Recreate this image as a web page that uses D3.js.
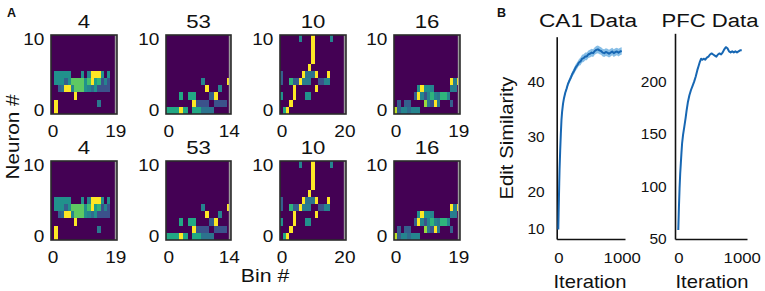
<!DOCTYPE html>
<html><head><meta charset="utf-8">
<script src="https://cdn.jsdelivr.net/npm/d3@7"></script>
<style>
body{margin:0;background:#fff}
svg{display:block;font-family:"Liberation Sans",Arial,sans-serif}
</style></head><body>
<svg id="c" width="765" height="291"></svg>
<script>
// ---------------- DATA ----------------
const panelTitles = ["4", "53", "10", "16"];
const binCounts = [20, 15, 21, 20];
const neuronCount = 11;
const neuronTicks = [0, 10];
// heatmap cells: [bin, neuron, normalized activity]
const heat4 = [
  [1,0,1],[1,1,1],[14,1,0.4],[7,2,1],
  [2,3,0.3],[3,3,0.35],[4,3,1],[5,3,1],[6,3,0.45],[7,3,0.75],[8,3,0.75],[9,3,0.75],[10,3,0.5],[11,3,0.45],[12,3,0.35],[13,3,0.5],[14,3,0.25],[15,3,0.25],[16,3,0.25],[17,3,0.25],
  [1,4,0.5],[2,4,0.5],[3,4,0.5],[4,4,0.3],[5,4,0.5],[6,4,0.75],[7,4,0.75],[8,4,0.75],[9,4,0.75],[10,4,0.5],[11,4,0.7],[12,4,1],[13,4,0.55],[14,4,0.65],[15,4,0.25],[16,4,0.45],[17,4,0.25],
  [1,5,0.5],[2,5,0.5],[3,5,0.5],[4,5,0.5],[5,5,0.5],[9,5,0.5],[11,5,0.45],[12,5,1],[13,5,1],[14,5,1],[15,5,0.5],[17,5,0.5]
];
const heat53 = [
  [0,0,0.6],[1,0,0.6],[2,0,0.6],[3,0,1],[4,0,0.6],[6,0,0.6],[7,0,0.6],[8,0,0.38],[9,0,0.38],[10,0,0.38],
  [6,1,1],[7,1,0.25],[8,1,0.25],[9,1,0.25],[11,1,0.25],[12,1,0.25],[13,1,0.25],
  [3,2,0.6],[5,2,0.6],[6,2,0.6],[10,2,0.3],[11,2,1],
  [9,3,1],[12,3,0.45],
  [8,4,0.45],[14,4,1]
];
const heat10 = [
  [1,0,0.6],[2,0,1],[3,1,1],
  [0,2,0.5],[4,2,1],[8,2,0.5],[9,2,0.5],
  [4,3,1],[11,3,1],
  [0,4,0.3],[3,4,0.65],[4,4,0.3],[5,4,0.3],[6,4,1],[7,4,0.42],[8,4,0.42],[9,4,0.42],[12,4,0.25],[13,4,0.25],[14,4,0.45],[15,4,0.45],
  [0,5,0.3],[7,5,1],[8,5,0.38],[9,5,0.38],[10,5,0.38],[11,5,1],[15,5,1],
  [9,6,1],[10,7,1],[10,8,1],[10,9,1],
  [6,10,0.45],[10,10,1],[16,10,0.45]
];
const heat16 = [
  [0,0,0.9],[1,0,0.3],[2,0,0.45],[3,0,0.45],[4,0,0.35],[5,0,0.45],[6,0,0.45],[7,0,0.45],
  [1,1,0.3],[3,1,0.3],[4,1,0.3],[9,1,0.85],[10,1,0.4],[11,1,0.25],[12,1,1],[13,1,0.4],[17,1,0.3],
  [6,2,0.3],[7,2,1],[8,2,0.45],[9,2,0.25],[10,2,0.45],[11,2,0.65],[12,2,0.45],[13,2,0.4],[14,2,0.65],[15,2,0.65],[16,2,0.45],
  [7,3,0.5],[8,3,1],[9,3,0.5],[10,3,0.5],[11,3,0.45],[17,3,0.42],[18,3,0.42],
  [17,4,1],[18,4,0.42],[19,4,1]
];
const heatData = [heat4, heat53, heat10, heat16];

// Edit similarity learning curves
const ca1Iter = [0,5,10,15,20,30,40,50,60,75,90,110,130,150,175,200,225,250,275,300,325,350,375,400,425,450,475,500,525,550,575,600,625,650,675,700,725,750,775,800,825,850,875,900,925,950,975,1000];
const ca1Mean = [9.7,14,18,21.5,24,27.5,30.5,33,34.5,36,37,38,38.7,39.5,40.2,40.8,41.5,42,42.6,43,43.5,43.7,44.2,44.3,44.6,44.6,45,45.1,45.3,45.2,45.6,45.8,45.9,45.7,45.6,45.3,45.2,45.4,45.3,45.1,45.3,45.5,45.2,45.4,45.5,45.3,45.5,45.6];
const ca1Err = [0.2,0.2,0.2,0.2,0.2,0.3,0.3,0.3,0.3,0.3,0.3,0.4,0.4,0.4,0.5,0.5,0.5,0.6,0.6,0.6,0.6,0.7,0.7,0.7,0.7,0.7,0.7,0.7,0.7,0.7,0.7,0.7,0.7,0.7,0.7,0.7,0.7,0.7,0.7,0.7,0.7,0.7,0.7,0.7,0.7,0.7,0.7,0.7];
const ca1Ticks = [10, 20, 30, 40];
const pfcIter = [0,10,20,30,40,50,60,75,95,115,130,150,175,200,225,250,275,300,320,340,360,380,400,425,450,475,500,525,550,575,600,625,650,675,700,725,750,775,800,825,850,875,900,925,950,975,1000];
const pfcMean = [58,80,98,112,122,132,141,149,157,165,172,180,187,192,196,200,205,211,215,219,222,221,222,221,223,224,226,227,226,225,224,226,227,226,228,231,233,232,229,228,229,228,229,228,229,230,230];
const pfcTicks = [50, 100, 150, 200];
const iterTicks = [0, 1000];

// ---------------- DRAWING ----------------
const svg = d3.select("#c");
const viridis = d3.interpolateViridis;
const INK = "#111";

function label(g, x, y, s, size, opt = {}) {
  const t = g.append("text")
    .attr("transform", `translate(${x},${y})${opt.rot ? " rotate(" + opt.rot + ")" : ""} scale(${opt.sx || 1},1)`)
    .attr("text-anchor", opt.anchor || "middle")
    .attr("font-size", size)
    .attr("font-weight", opt.bold ? "bold" : "normal")
    .attr("fill", INK)
    .text(s);
  if (opt.len) t.attr("textLength", opt.len).attr("lengthAdjust", "spacingAndGlyphs");
  return t;
}

const panelLeft = [51, 166, 280, 394];
const panelRight = [117, 231, 346, 460];
const rowTop = [35, 161];
const rowBottom = [114, 240];

rowTop.forEach((top, ri) => {
  heatData.forEach((cells, pi) => {
    const n = binCounts[pi];
    const x = d3.scaleLinear().domain([-0.5, n - 0.5]).range([panelLeft[pi], panelRight[pi]]);
    const y = d3.scaleLinear().domain([-0.5, neuronCount - 0.5]).range([rowBottom[ri], top]);
    const g = svg.append("g");
    const x0 = x(-0.5), x1 = x(n - 0.5), y0 = y(neuronCount - 0.5), y1 = y(-0.5);
    g.append("rect").attr("x", x0).attr("y", y0).attr("width", x1 - x0).attr("height", y1 - y0)
      .attr("fill", viridis(0));
    g.selectAll("rect.cell").data(cells).join("rect").attr("class", "cell")
      .attr("x", d => x(d[0] - 0.5)).attr("y", d => y(d[1] + 0.5))
      .attr("width", d => x(d[0] + 0.5) - x(d[0] - 0.5))
      .attr("height", d => y(d[1] - 0.5) - y(d[1] + 0.5))
      .attr("fill", d => viridis(d[2]))
      .attr("shape-rendering", "crispEdges");
    g.append("rect").attr("x", x1 - 2.2).attr("y", y0).attr("width", 2.2).attr("height", y1 - y0)
      .attr("fill", "#9b9b9b");
    g.append("rect").attr("x", x0).attr("y", y0).attr("width", x1 - x0).attr("height", y1 - y0)
      .attr("fill", "none").attr("stroke", "#2b2b2b").attr("stroke-width", 1.6);

    const ay = g.append("g").attr("transform", `translate(${x0},0)`)
      .call(d3.axisLeft(y).tickValues(neuronTicks).tickSize(0).tickPadding(6));
    const ax = g.append("g").attr("transform", `translate(0,${y1})`)
      .call(d3.axisBottom(x).tickValues([0, n - 1]).tickSize(0).tickPadding(11));
    [ay, ax].forEach(a => {
      a.select(".domain").remove();
      a.selectAll("text").attr("font-size", 17).attr("fill", INK)
        .attr("font-family", '"Liberation Sans", Arial, sans-serif');
    });
    ay.selectAll("text").attr("transform", "scale(1.12,1)");
    ax.selectAll("text").attr("transform", "scale(1.12,1)");
    label(g, (x0 + x1) / 2, top - 7, panelTitles[pi], 18.5, { sx: 1.2 });
  });
});

label(svg, 7, 17, "A", 12.5, { anchor: "start", bold: true });
label(svg, 19, 137, "Neuron #", 18.5, { rot: -90, len: 85 });
label(svg, 265, 282, "Bin #", 19, { sx: 1.12 });

// ---- Panel B ----
label(svg, 497, 17, "B", 12.5, { anchor: "start", bold: true });
const lineColor = "#1767b3";
const bandColor = "#5fa8dd";

function curvePanel(cfg) {
  const g = svg.append("g");
  const ax = g.append("g").attr("transform", `translate(0,${cfg.xAxisY})`)
    .call(d3.axisBottom(cfg.x).tickValues(iterTicks).tickFormat(d3.format("d"))
      .tickSize(0).tickSizeOuter(0).tickPadding(13));
  const ay = g.append("g").attr("transform", `translate(${cfg.yAxisX},0)`)
    .call(d3.axisLeft(cfg.y).tickValues(cfg.ticks).tickFormat(d3.format("d"))
      .tickSize(0).tickSizeOuter(0).tickPadding(cfg.pad));
  [ax, ay].forEach(a => {
    a.select(".domain").attr("stroke", "#111").attr("stroke-width", 1.6);
    a.selectAll("text").attr("font-size", 15.5).attr("fill", INK)
      .attr("font-family", '"Liberation Sans", Arial, sans-serif');
  });
  ax.selectAll("text").attr("transform", "scale(1.08,1)");
  if (cfg.err) {
    const area = d3.area().x((d, i) => cfg.x(cfg.iter[i]))
      .y0((d, i) => cfg.y(d - cfg.err[i])).y1((d, i) => cfg.y(d + cfg.err[i]));
    g.append("path").datum(cfg.mean).attr("d", area).attr("fill", bandColor).attr("opacity", 0.75);
  }
  const line = d3.line().x((d, i) => cfg.x(cfg.iter[i])).y(d => cfg.y(d));
  g.append("path").datum(cfg.mean).attr("d", line).attr("fill", "none")
    .attr("stroke", lineColor).attr("stroke-width", 2).attr("stroke-linejoin", "round");
  label(g, cfg.titleX, 26.7, cfg.title, 18, { len: cfg.titleLen });
  label(g, cfg.titleX + 2, 288, "Iteration", 18.5, { len: 73 });
}

curvePanel({
  x: d3.scaleLinear().domain([-25, 1052]).range([556.7, 625]),
  y: d3.scaleLinear().domain([7.1, 10, 20, 30, 40, 48.2]).range([239, 228.3, 191.3, 136.7, 81.7, 36.7]),
  xAxisY: 239, yAxisX: 556.7, pad: 12, ticks: ca1Ticks,
  iter: ca1Iter, mean: ca1Mean, err: ca1Err,
  title: "CA1 Data", titleX: 588, titleLen: 98
});
curvePanel({
  x: d3.scaleLinear().domain([-52, 1083]).range([675, 747]),
  y: d3.scaleLinear().domain([49.3, 246.3]).range([239, 33.3]),
  xAxisY: 239, yAxisX: 675, pad: 8.3, ticks: pfcTicks,
  iter: pfcIter, mean: pfcMean, err: null,
  title: "PFC Data", titleX: 710, titleLen: 97
});
label(svg, 513, 138, "Edit Similarity", 18, { rot: -90, len: 123 });
</script>
</body></html>
